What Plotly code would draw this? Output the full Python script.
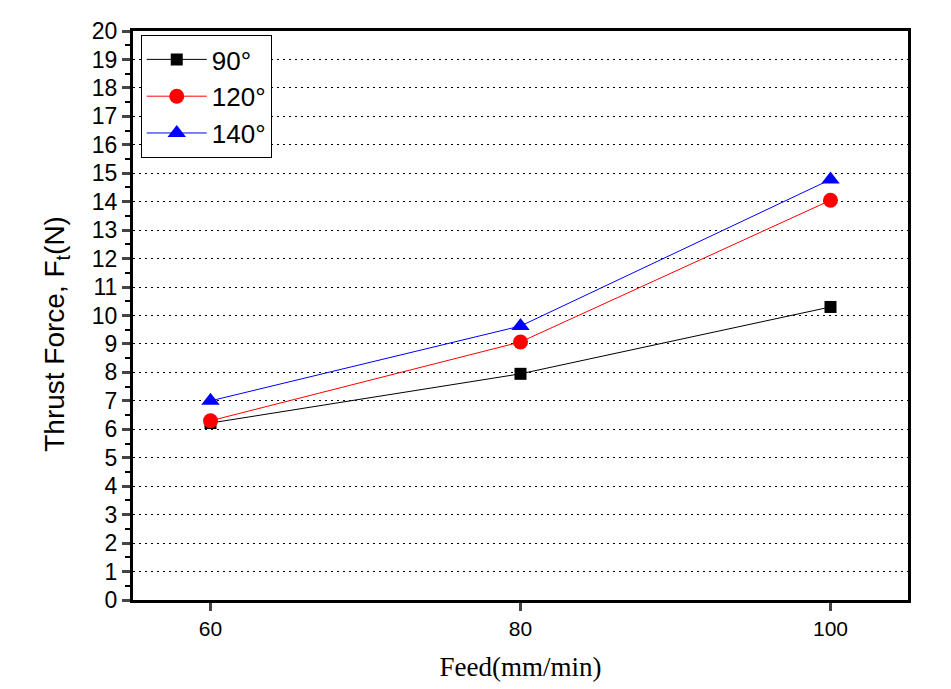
import plotly.graph_objects as go

feed = [60, 80, 100]
f90 = [6.22, 7.95, 10.3]
f120 = [6.3, 9.07, 14.05]
f140 = [7.0, 9.63, 14.78]
labels = ["90°", "120°", "140°"]

fig = go.Figure()
fig.add_trace(go.Scatter(x=feed, y=f90, name=labels[0], mode="lines+markers",
                         line=dict(color="black", width=1),
                         marker=dict(symbol="square", size=12, color="black")))
fig.add_trace(go.Scatter(x=feed, y=f120, name=labels[1], mode="lines+markers",
                         line=dict(color="red", width=1),
                         marker=dict(symbol="circle", size=15, color="red")))
fig.add_trace(go.Scatter(x=feed, y=f140, name=labels[2], mode="lines+markers",
                         line=dict(color="blue", width=1),
                         marker=dict(symbol="triangle-up", size=16, color="blue")))

fig.update_layout(
    width=951, height=689,
    margin=dict(l=133, r=43, t=31, b=87),
    paper_bgcolor="white", plot_bgcolor="white",
    font=dict(family="Liberation Sans, Arial", color="black"),
    legend=dict(x=0.01, y=0.993, xanchor="left", yanchor="top",
                bordercolor="black", borderwidth=1, bgcolor="white",
                font=dict(size=26, family="Liberation Sans, Arial"),
                itemwidth=60, tracegroupgap=0),
    showlegend=True,
)
fig.add_annotation(text="Thrust Force, F<sub>t</sub>(N)", textangle=-90,
                   xref="paper", yref="paper", x=-0.098, y=0.468,
                   xanchor="center", yanchor="middle", showarrow=False,
                   font=dict(size=28, family="Liberation Sans, Arial", color="black"))
fig.update_xaxes(range=[55, 105], tick0=60, dtick=20, ticks="outside", ticklen=8, tickwidth=3,
                 showline=True, linewidth=3, linecolor="black", mirror=True,
                 showgrid=False, zeroline=False,
                 tickfont=dict(size=21, family="Liberation Sans, Arial"),
                 title=dict(text="Feed(mm/min)", font=dict(size=27, family="Liberation Serif, Times New Roman"), standoff=18))
fig.update_yaxes(range=[0, 20], dtick=1, ticks="outside", ticklen=8, tickwidth=3,
                 showline=True, linewidth=3, linecolor="black", mirror=True,
                 showgrid=True, gridcolor="black", gridwidth=1, griddash="2px,4px",
                 zeroline=False,
                 minor=dict(dtick=0.5, ticks="outside", ticklen=5, tickwidth=2, tickcolor="black", showgrid=False),
                 tickfont=dict(size=23, family="Liberation Sans, Arial"))

fig.write_html("out.html")
